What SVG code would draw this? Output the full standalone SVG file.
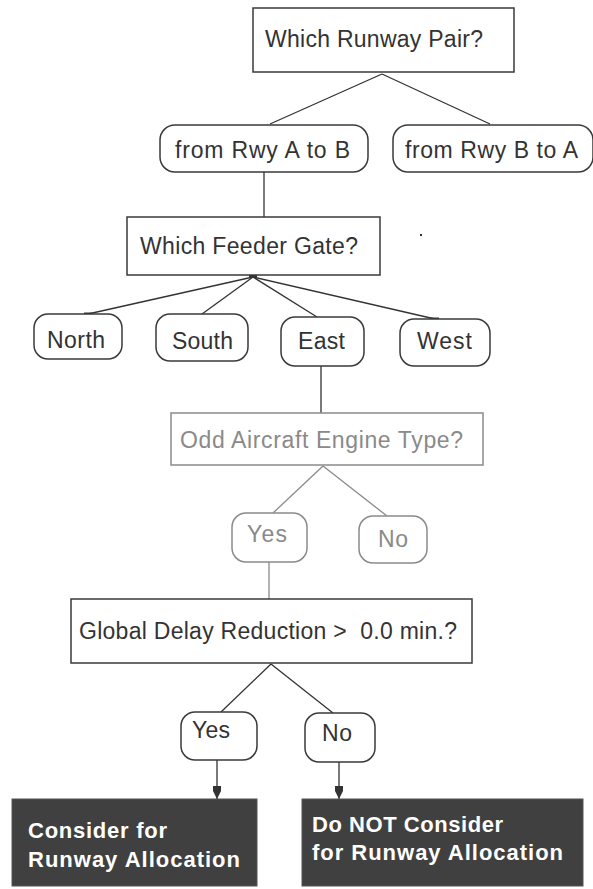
<svg xmlns="http://www.w3.org/2000/svg" width="593" height="889" viewBox="0 0 593 889">
<style>
  .box { fill: #fff; stroke: #3a3a3a; stroke-width: 1.5; }
  .pill { fill: #fff; stroke: #3a3a3a; stroke-width: 1.5; }
  .gbox { fill: #fff; stroke: #8a8a8a; stroke-width: 1.5; }
  .dark { fill: #404040; stroke: #555; stroke-width: 1; }
  .t { font-family: "Liberation Sans", Arial, sans-serif; font-size: 23px; fill: #333; }
  .tg { font-family: "Liberation Sans", Arial, sans-serif; font-size: 23px; fill: #8a8a8a; }
  .tw { font-family: "Liberation Sans", Arial, sans-serif; font-size: 22px; font-weight: bold; fill: #fff; }
  .ln { stroke: #333; stroke-width: 1.3; fill: none; }
  .lg { stroke: #8a8a8a; stroke-width: 1.3; fill: none; }
</style>
<defs>
  <marker id="arr" markerWidth="14" markerHeight="10" refX="13" refY="5" orient="auto" markerUnits="userSpaceOnUse" viewBox="0 0 14 10">
    <path d="M0,1 L5,1 L13,5 L5,9 L0,9 z" fill="#333"/>
  </marker>
</defs>

<g id="connectors">
  <line class="ln" x1="382" y1="74" x2="270" y2="124"/>
  <line class="ln" x1="382" y1="74" x2="490" y2="124"/>
  <line class="ln" x1="264" y1="172" x2="264" y2="217"/>
  <line class="ln" x1="253" y1="277" x2="88" y2="314"/>
  <line class="ln" x1="253" y1="277" x2="202" y2="314"/>
  <line class="ln" x1="253" y1="277" x2="317" y2="317"/>
  <line class="ln" x1="253" y1="277" x2="435" y2="319"/>
  <rect x="249" y="275" width="8" height="3" fill="#333"/>
  <rect x="84" y="312.5" width="8" height="2.5" fill="#333"/>
  <rect x="430" y="317.5" width="9" height="2.5" fill="#333"/>
  <line class="ln" x1="321" y1="366" x2="321" y2="413"/>
  <line class="lg" x1="323" y1="466" x2="273" y2="513"/>
  <line class="lg" x1="323" y1="466" x2="387" y2="516"/>
  <line class="lg" x1="269" y1="562" x2="269" y2="599"/>
  <line class="ln" x1="271" y1="664" x2="221" y2="712"/>
  <line class="ln" x1="271" y1="664" x2="333" y2="713"/>
  <line class="ln" x1="217" y1="760" x2="217" y2="799" marker-end="url(#arr)"/>
  <line class="ln" x1="339" y1="762" x2="339" y2="799" marker-end="url(#arr)"/>
  <rect x="420" y="234" width="2" height="2" fill="#333"/>
</g>

<g id="runway-pair">
  <rect class="box" x="253" y="8" width="261" height="64"/>
  <text class="t" x="265" y="47" textLength="218">Which Runway Pair?</text>
</g>
<g id="rwy-a-to-b">
  <rect class="pill" x="160" y="125" width="208" height="47" rx="15"/>
  <text class="t" x="175" y="158" textLength="175">from Rwy A to B</text>
</g>
<g id="rwy-b-to-a">
  <rect class="pill" x="393" y="125" width="200" height="47" rx="15"/>
  <text class="t" x="405" y="158" textLength="173">from Rwy B to A</text>
</g>
<g id="feeder-gate">
  <rect class="box" x="127" y="217" width="253" height="58"/>
  <text class="t" x="140" y="254" textLength="218">Which Feeder Gate?</text>
</g>
<g id="north">
  <rect class="pill" x="34" y="314" width="88" height="45" rx="14"/>
  <text class="t" x="47" y="348" textLength="58">North</text>
</g>
<g id="south">
  <rect class="pill" x="156" y="314" width="92" height="47" rx="14"/>
  <text class="t" x="172" y="349" textLength="61">South</text>
</g>
<g id="east">
  <rect class="pill" x="281" y="317" width="83" height="49" rx="14"/>
  <text class="t" x="298" y="349" textLength="47">East</text>
</g>
<g id="west">
  <rect class="pill" x="400" y="319" width="90" height="47" rx="14"/>
  <text class="t" x="417" y="349" textLength="55">West</text>
</g>
<g id="engine-type">
  <rect class="gbox" x="171" y="413" width="312" height="52"/>
  <text class="tg" x="180" y="448" textLength="283">Odd Aircraft Engine Type?</text>
</g>
<g id="engine-yes">
  <rect class="gbox" x="232" y="513" width="75" height="49" rx="14"/>
  <text class="tg" x="247" y="542" textLength="40">Yes</text>
</g>
<g id="engine-no">
  <rect class="gbox" x="359" y="516" width="68" height="47" rx="14"/>
  <text class="tg" x="378" y="547" textLength="30">No</text>
</g>
<g id="delay-reduction">
  <rect class="box" x="71" y="599" width="401" height="64"/>
  <text class="t" x="79" y="639" textLength="378" xml:space="preserve">Global Delay Reduction &gt;  0.0 min.?</text>
</g>
<g id="delay-yes">
  <rect class="pill" x="181" y="712" width="76" height="48" rx="14"/>
  <text class="t" x="192" y="738" textLength="38">Yes</text>
</g>
<g id="delay-no">
  <rect class="pill" x="305" y="713" width="70" height="49" rx="14"/>
  <text class="t" x="322" y="741" textLength="30">No</text>
</g>
<g id="consider">
  <rect class="dark" x="12" y="799" width="245" height="87"/>
  <text class="tw" x="28" y="838" textLength="139">Consider for</text>
  <text class="tw" x="28" y="867" textLength="212">Runway Allocation</text>
</g>
<g id="do-not-consider">
  <rect class="dark" x="302" y="799" width="281" height="87"/>
  <text class="tw" x="312" y="832" textLength="191">Do NOT Consider</text>
  <text class="tw" x="312" y="860" textLength="251">for Runway Allocation</text>
</g>
</svg>
